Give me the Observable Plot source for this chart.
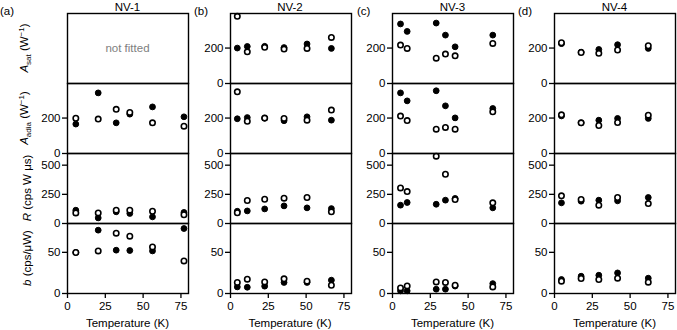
<!DOCTYPE html>
<html><head><meta charset="utf-8">
<script src="https://cdn.jsdelivr.net/npm/d3@7"></script>
<script src="https://cdn.jsdelivr.net/npm/@observablehq/plot@0.6"></script>
<style>
body{margin:0;background:#fff;}
#chart{position:relative;width:677px;height:330px;font-family:"Liberation Sans",Arial,sans-serif;}
#chart svg{position:absolute;}
</style></head><body><div id="chart"></div>
<script>
// ---------- data ----------
const panelNames = ["NV-1", "NV-2", "NV-3", "NV-4"];
const panelTags = ["(a)", "(b)", "(c)", "(d)"];
const xTicks = [0, 25, 50, 75];
const yTicksAsat = [0, 200];
const yTicksAadia = [0, 200];
const yTicksR = [0, 250, 500];
const yTicksB = [0, 50];

// NV-1 (A_sat not fitted)
const NV1_T = [5.5, 20.3, 32.2, 41.2, 56.2, 77];
const NV1_Aadia_filled = [166, 342, 173, 222, 263, 207];
const NV1_Aadia_open = [199, 194, 249, 232, 173, 154];
const NV1_R_filled = [114, 48, 100, 86, 57, 95];
const NV1_R_open = [91, 91, 114, 114, 105, 75];
const NV1_b_filled = [49.8, 76.9, 52.6, 52.2, 51.7, 78.9];
const NV1_b_open = [49.8, 51.7, 73.2, 69.6, 56.6, 39.6];

// NV-2
const NV2_T = [4.5, 11.1, 22.6, 35.4, 50.6, 66.7];
const NV2_Asat_filled = [200, 209, 210, 203, 223, 198];
const NV2_Asat_open = [379, 179, 204, 194, 198, 260];
const NV2_Aadia_filled = [196, 203, 199, 185, 207, 188];
const NV2_Aadia_open = [348, 182, 200, 198, 188, 245];
const NV2_R_filled = [105, 108, 125, 151, 134, 128];
const NV2_R_open = [92, 197, 208, 217, 223, 100];
const NV2_b_filled = [8, 7.6, 8.9, 13.4, 13.4, 16.2];
const NV2_b_open = [13.4, 17.4, 14.1, 17.8, 15, 10];

// NV-3
const NV3_T = [5.3, 9.7, 28.9, 35, 41.4, 66.3];
const NV3_Asat_filled = [336, 294, 341, 273, 207, 273];
const NV3_Asat_open = [217, 198, 143, 166, 156, 226];
const NV3_Aadia_filled = [342, 297, 354, 269, 201, 254];
const NV3_Aadia_open = [211, 186, 137, 147, 137, 235];
const NV3_R_filled = [157, 180, 165, 200, 215, 134];
const NV3_R_open = [305, 274, 577, 422, 205, 177];
const NV3_b_filled = [3.2, 3.2, 5.2, 5.2, 9, 12];
const NV3_b_open = [6.8, 9.2, 14.1, 13.4, 10, 8];

// NV-4
const NV4_T = [4.6, 17.6, 29.3, 41.7, 62];
const NV4_Asat_filled = [225, 177, 192, 219, 198];
const NV4_Asat_open = [230, 175, 170, 189, 213];
const NV4_Aadia_filled = [212, 173, 188, 198, 198];
const NV4_Aadia_open = [218, 173, 158, 175, 216];
const NV4_R_filled = [177, 191, 200, 194, 223];
const NV4_R_open = [237, 206, 157, 223, 171];
const NV4_b_filled = [17, 21, 22.2, 25, 18.6];
const NV4_b_open = [15, 18.2, 17, 18.6, 13.7];

// ---------- assemble ----------
const toRows = (T, v) => T.map((t, i) => ({T: t, v: v[i]}));
const panels = [
  [null,
   [NV1_T, NV1_Aadia_filled, NV1_Aadia_open],
   [NV1_T, NV1_R_filled, NV1_R_open],
   [NV1_T, NV1_b_filled, NV1_b_open]],
  [[NV2_T, NV2_Asat_filled, NV2_Asat_open],
   [NV2_T, NV2_Aadia_filled, NV2_Aadia_open],
   [NV2_T, NV2_R_filled, NV2_R_open],
   [NV2_T, NV2_b_filled, NV2_b_open]],
  [[NV3_T, NV3_Asat_filled, NV3_Asat_open],
   [NV3_T, NV3_Aadia_filled, NV3_Aadia_open],
   [NV3_T, NV3_R_filled, NV3_R_open],
   [NV3_T, NV3_b_filled, NV3_b_open]],
  [[NV4_T, NV4_Asat_filled, NV4_Asat_open],
   [NV4_T, NV4_Aadia_filled, NV4_Aadia_open],
   [NV4_T, NV4_R_filled, NV4_R_open],
   [NV4_T, NV4_b_filled, NV4_b_open]]
];
const yTicks = [yTicksAsat, yTicksAadia, yTicksR, yTicksB];

// ---------- layout ----------
const colLeft = [67, 229.5, 392, 554];
const colW = 121;
const rowTop = [13, 83, 153, 223];
const rowH = 70;
const yDomains = [[0, 395], [0, 395], [0, 600], [0, 85]];
const xDomain = [0, 80];
const FONT = '"Liberation Sans", Arial, sans-serif';

const chart = document.getElementById("chart");

for (let c = 0; c < 4; c++) {
  for (let r = 0; r < 4; r++) {
    const bottom = r === 3;
    const mL = 40, mR = 4, mT = 4, mB = bottom ? 40 : 4;
    const spec = panels[c][r];
    const marks = [];
    if (spec) {
      const [T, f, o] = spec;
      marks.push(Plot.dot(toRows(T, f), {x: "T", y: "v", r: 2.9, fill: "black", stroke: "black", strokeWidth: 1}));
      marks.push(Plot.dot(toRows(T, o), {x: "T", y: "v", r: 2.7, fill: "white", stroke: "black", strokeWidth: 1.6}));
    }
    const showY = !(c === 0 && r === 0);
    if (showY) marks.push(Plot.axisY(yTicks[r], {tickSize: 5, tickPadding: 2, label: null, strokeWidth: 1.3, fontSize: 11.5}));
    if (bottom) marks.push(Plot.axisX(xTicks, {tickSize: 5, tickPadding: 3, label: null, strokeWidth: 1.3, fontSize: 11.5}));
    marks.push(Plot.frame({stroke: "black", strokeWidth: 1.4}));
    const svg = Plot.plot({
      width: mL + colW + mR,
      height: mT + rowH + mB,
      marginLeft: mL, marginRight: mR, marginTop: mT, marginBottom: mB,
      x: {domain: xDomain, axis: bottom ? undefined : null},
      y: {domain: yDomains[r], axis: showY ? undefined : null},
      style: {background: "transparent", overflow: "visible", fontFamily: FONT, fontSize: "11.5px", color: "black"},
      marks
    });
    svg.style.left = (colLeft[c] - mL) + "px";
    svg.style.top = (rowTop[r] - mT) + "px";
    chart.appendChild(svg);
  }
}

// ---------- overlay text ----------
const ov = d3.select(chart).append("svg")
  .attr("width", 677).attr("height", 330)
  .style("left", "0px").style("top", "0px")
  .style("font-family", FONT).style("font-size", "11.5px");

const tagX = [0, 194, 357, 518];
for (let c = 0; c < 4; c++) {
  ov.append("text").attr("x", tagX[c]).attr("y", 15).text(panelTags[c]);
  ov.append("text").attr("x", colLeft[c] + colW / 2).attr("y", 11).attr("text-anchor", "middle").text(panelNames[c]);
  ov.append("text").attr("x", colLeft[c] + colW / 2).attr("y", 327).attr("text-anchor", "middle").text("Temperature (K)");
}
ov.append("text").attr("x", colLeft[0] + colW / 2).attr("y", rowTop[0] + rowH / 2 - 0).attr("dy", "0.35em")
  .attr("text-anchor", "middle").attr("fill", "#808080").text("not fitted");

function ylabel(r, x, parts) {
  const t = ov.append("text")
    .attr("transform", `translate(${x},${rowTop[r] + rowH / 2}) rotate(-90)`)
    .attr("text-anchor", "middle");
  for (const p of parts) {
    const s = t.append("tspan").text(p.t);
    if (p.i) s.attr("font-style", "italic");
    if (p.fs) s.attr("font-size", p.fs);
    if (p.dy) s.attr("dy", p.dy);
  }
}
ylabel(0, 28, [{t: "A", i: 1}, {t: "sat", fs: 8, dy: 2.5}, {t: " (W", dy: -2.5}, {t: "−1", fs: 8, dy: -4.5}, {t: ")", dy: 4.5}]);
ylabel(1, 28, [{t: "A", i: 1}, {t: "adia", fs: 8, dy: 2.5}, {t: " (W", dy: -2.5}, {t: "−1", fs: 8, dy: -4.5}, {t: ")", dy: 4.5}]);
ylabel(2, 31, [{t: "R", i: 1}, {t: " (cps W μs)"}]);
ylabel(3, 31, [{t: "b", i: 1}, {t: " (cps/μW)"}]);
</script></body></html>
